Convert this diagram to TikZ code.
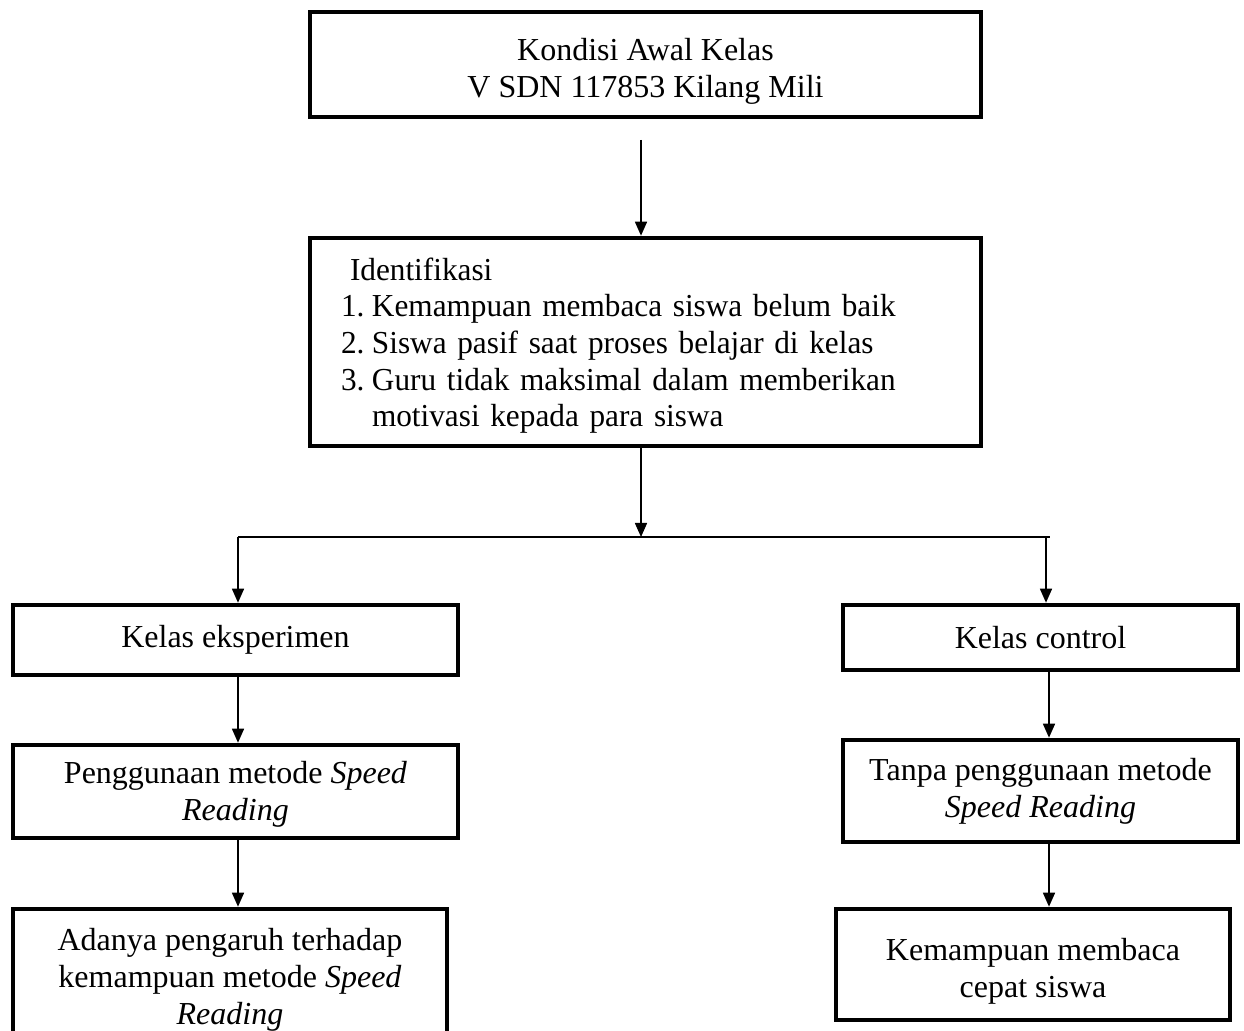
\documentclass[tikz,border=0pt]{standalone}
\usepackage{fontspec}
\setmainfont{Liberation Serif}
\newfontfamily\sempit[FakeStretch=0.977]{Liberation Serif}
\usetikzlibrary{arrows.meta}

\begin{document}
\begin{tikzpicture}[x=0.5pt,y=-0.5pt,
    kotak/.style={draw,line width=2.3pt,inner sep=0pt,align=center,
      font=\fontsize{16pt}{18.5pt}\selectfont},
    panah/.style={line width=0.8pt,-{Triangle[width=6pt,length=7pt]}}]
  \useasboundingbox (0,0) rectangle (1244,1031);
  \clip (0,0) rectangle (1244,1031);

  \node[kotak,minimum width=335.5pt,minimum height=52.5pt] (kondisi) at (645.5,64.5)
    {\rule{0pt}{18pt}Kondisi Awal Kelas\\V SDN 117853 Kilang Mili};
  \node[kotak,align=left,text width=304.5pt,inner xsep=15.5pt,minimum height=104pt,
      font=\fontsize{16pt}{18.3pt}\sempit] (ident) at (645.5,342)
    {\rule{0pt}{15pt}\hspace*{4.5pt}Identifikasi\\
     \makebox[15.5pt][l]{1.}Kemampuan membaca siswa belum baik\\
     \makebox[15.5pt][l]{2.}Siswa pasif saat proses belajar di kelas\\
     \makebox[15.5pt][l]{3.}Guru tidak maksimal dalam memberikan\\
     \hspace*{15.5pt}motivasi kepada para siswa};

  \node[kotak,minimum width=222.5pt,minimum height=35pt] (eksp) at (235.5,640) {Kelas eksperimen};
  \node[kotak,minimum width=197.5pt,minimum height=32.5pt] (control) at (1040.5,637.5) {Kelas control};
  \node[kotak,minimum width=222.5pt,minimum height=46.5pt] (pengg) at (235.5,791.5)
    {\rule{0pt}{14pt}Penggunaan metode \textit{Speed}\\\textit{Reading}};
  \node[kotak,minimum width=197.5pt,minimum height=51pt] (tanpa) at (1040.5,791)
    {Tanpa penggunaan metode\\\textit{Speed Reading}};
  \node[kotak,minimum width=217pt,minimum height=68pt] (adanya) at (230,977)
    {\rule{0pt}{14pt}Adanya pengaruh terhadap\\kemampuan metode \textit{Speed}\\\textit{Reading}};
  \node[kotak,minimum width=197pt,minimum height=55.5pt] (kemamp) at (1033,964.5)
    {\rule{0pt}{18pt}Kemampuan membaca\\cepat siswa};

  \coordinate (awal) at (641,140);
  \coordinate (cabang) at (641,537);
  \coordinate (kiri) at (238,537);
  \coordinate (kanan) at (1046,537);
  \coordinate (kanan2) at (1049,537);

  \draw[panah] (awal) -- (awal |- ident.north);
  \draw[panah] (ident.south -| cabang) -- (cabang);
  \draw[line width=0.8pt] (kiri) -- ([xshift=2pt]kanan);
  \draw[panah] (kiri) -- (kiri |- eksp.north);
  \draw[panah] (kanan) -- (kanan |- control.north);
  \draw[panah] (eksp.south -| kiri) -- (pengg.north -| kiri);
  \draw[panah] (pengg.south -| kiri) -- (adanya.north -| kiri);
  \draw[panah] (control.south -| kanan2) -- (tanpa.north -| kanan2);
  \draw[panah] (tanpa.south -| kanan2) -- (kemamp.north -| kanan2);
\end{tikzpicture}
\end{document}
